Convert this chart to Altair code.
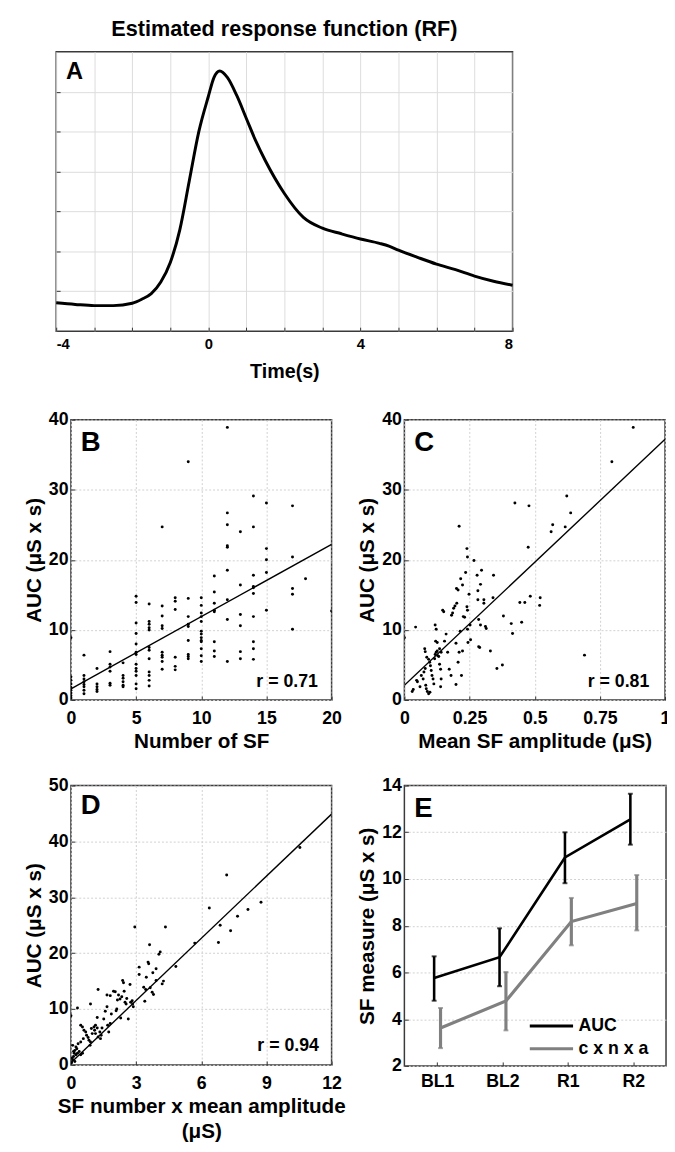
import altair as alt
import pandas as pd

FONT = "Liberation Sans"

# ---------------- Panel A: estimated response function ----------------
rf_time = [-4, -3.5, -3, -2.5, -2, -1.75, -1.5, -1.25, -1, -0.75, -0.5, -0.25, 0, 0.15, 0.3,
           0.5, 0.75, 1, 1.25, 1.5, 2, 2.5, 3, 3.5, 4, 4.5, 4.75, 5, 5.5, 6, 6.5, 7, 7.5, 8]
rf_value = [0.71, 0.67, 0.64, 0.64, 0.70, 0.80, 0.94, 1.23, 1.72, 2.54, 3.77, 5.0, 5.88, 6.36, 6.52,
            6.36, 5.9, 5.33, 4.76, 4.27, 3.45, 2.85, 2.58, 2.44, 2.31, 2.20, 2.13, 2.03, 1.85, 1.68, 1.54, 1.38, 1.25, 1.15]

# ---------------- Panel B: number of SF vs AUC ----------------
B_count = ([0]*9 + [1]*8 + [2]*5 + [3]*6 + [4]*6 + [5]*13 + [6]*12 + [7]*10 + [8]*6 + [9]*9 +
           [10]*13 + [11]*8 + [12]*9 + [13]*6 + [14]*10 + [15]*5 + [17]*5 + [18] + [20])
B_auc = [8.9, 3.3, 2.8, 2.3, 1.8, 1.4, 1.0, 0.6, 0.3,
         6.4, 3.5, 3.0, 2.6, 2.2, 1.9, 1.4, 0.9,
         4.5, 2.3, 1.9, 1.5, 1.2,
         6.9, 5.1, 4.7, 4.1, 2.4, 2.1,
         5.3, 3.5, 3.1, 2.6, 2.1, 1.9,
         14.8, 13.9, 11.0, 9.5, 8.0, 6.8, 6.5, 5.1, 4.5, 4.1, 3.5, 2.3, 1.6,
         13.7, 11.2, 10.8, 10.3, 10.0, 7.5, 7.1, 5.9, 4.0, 3.5, 2.8, 2.0,
         24.7, 13.4, 12.0, 10.6, 10.2, 6.8, 6.4, 6.1, 5.5, 4.4,
         14.6, 14.1, 12.9, 6.1, 4.8, 4.3,
         34.0, 14.5, 11.9, 10.8, 10.5, 8.5, 6.5, 6.2, 5.9,
         14.6, 13.5, 12.4, 11.9, 11.2, 9.8, 9.4, 8.9, 8.5, 8.3, 7.3, 6.3, 5.5,
         17.7, 15.4, 13.8, 12.8, 12.6, 8.3, 7.0, 6.2,
         38.9, 26.7, 25.0, 22.0, 21.8, 18.5, 14.3, 11.5, 5.5,
         24.0, 16.4, 12.2, 10.6, 6.9, 5.9,
         29.1, 24.7, 17.8, 16.2, 16.0, 15.2, 11.9, 8.3, 7.3, 5.8,
         28.1, 21.6, 20.0, 18.2, 12.8,
         27.7, 20.4, 15.9, 15.1, 10.1,
         17.3,
         12.7]
B_fit_x = [0, 20]
B_fit_y = [1.6, 22.2]

# ---------------- Panel C: mean SF amplitude vs AUC ----------------
C_amp = [0, 0.043, 0.047, 0.05, 0.034, 0.03, 0.06, 0.065, 0.072, 0.075, 0.08, 0.082, 0.084, 0.088, 0.093, 0.098,
         0.08, 0.078, 0.086, 0.093, 0.097, 0.1, 0.103, 0.106, 0.11, 0.113,
         0.116, 0.118, 0.122, 0.126, 0.128, 0.132, 0.135, 0.141, 0.118, 0.122, 0.12, 0.126, 0.135, 0.139, 0.141, 0.139,
         0.147, 0.151, 0.154, 0.16, 0.166, 0.172, 0.179, 0.181, 0.185, 0.189, 0.194, 0.198, 0.198,
         0.2, 0.206, 0.201, 0.21, 0.206, 0.21, 0.214, 0.216, 0.219, 0.223, 0.223, 0.226, 0.231, 0.235, 0.24, 0.242,
         0.24, 0.242, 0.242, 0.244, 0.248, 0.252, 0.254,
         0.267, 0.279, 0.282, 0.282, 0.285, 0.285, 0.289, 0.292, 0.292, 0.296, 0.305, 0.305, 0.311, 0.314, 0.33, 0.342, 0.34,
         0.355, 0.376, 0.38, 0.41, 0.415, 0.424, 0.443, 0.45, 0.462, 0.475, 0.478, 0.483, 0.519, 0.521, 0.563, 0.569,
         0.617, 0.623, 0.638, 0.691, 0.796, 0.878]
C_auc = [8.9, 10.4, 2.8, 2.6, 1.5, 1.2, 1.9, 3.5, 3.0, 4.0, 4.5, 2.1, 1.6, 1.2, 0.9, 1.1,
         6.9, 7.3, 6.1, 5.8, 5.4, 4.9, 4.2, 3.5, 3.0, 2.3,
         5.9, 6.5, 6.8, 7.0, 6.3, 6.2, 7.3, 6.8, 10.7, 10.1, 8.4, 8.2, 5.1, 4.4, 3.0, 1.9,
         12.8, 12.6, 8.4, 9.4, 6.8, 4.4, 3.5, 12.1, 12.4, 13.1, 13.4, 8.1, 2.2,
         15.9, 15.7, 13.8, 24.8, 5.4, 6.8, 9.8, 17.3, 3.5, 16.4, 7.0, 11.9, 11.8, 18.2, 21.6, 20.4,
         13.3, 12.8, 10.1, 8.2, 15.1, 10.7, 8.6,
         19.9, 17.8, 15.6, 14.3, 11.5, 7.6, 7.5, 16.5, 10.7, 18.5, 14.3, 13.8, 10.5, 10.2, 7.0, 17.8, 14.6,
         4.5, 5.0, 12.0, 10.9, 9.5, 28.1, 13.9, 11.1, 13.9, 21.8, 27.7, 14.8, 13.5, 14.6, 24.0, 25.0,
         24.7, 29.1, 26.7, 6.4, 34.0, 38.9]
C_fit_x = [0, 1]
C_fit_y = [2.1, 37.2]

# ---------------- Panel D: SF number x mean amplitude vs AUC ----------------
D_prod = [0, 0.3, 0.9, 1.25,
          0.08, 0.12, 0.15, 0.18, 0.23, 0.27, 0.08, 0.12, 0.23, 0.3, 0.38, 0.45, 0.53, 0.33, 0.45, 0.57, 0.03, 0.05, 0.18,
          0.45, 0.53, 0.6, 0.68, 0.72, 0.79, 0.83, 0.88, 0.9, 0.98, 0.94, 1.06, 1.13, 1.21, 1.21, 1.25, 1.33, 1.39, 1.36, 1.43, 1.09, 1.13,
          1.51, 1.58, 1.66, 1.69, 1.74, 1.81, 1.86, 1.66, 1.81, 1.96, 2.04, 2.08, 2.11, 2.14, 2.19, 2.26, 2.29, 2.34, 2.38, 2.42,
          2.45, 2.49, 2.54, 2.57, 2.64, 2.72, 2.75, 2.82, 2.84, 2.87,
          2.94, 3.14, 3.14, 3.35, 3.4, 3.44, 3.47, 3.55, 3.58, 3.62, 3.65, 3.74, 3.8, 3.77, 3.92, 3.92, 4.05, 4.11, 4.2, 4.26, 4.35, 4.83,
          5.7, 6.37, 6.79, 6.87, 7.17, 7.35, 7.67, 8.15, 8.75, 10.54]
D_auc = [8.8, 10.2, 10.9, 13.5,
         0.9, 1.5, 2.1, 2.6, 3.2, 2.9, 3.5, 2.4, 1.8, 2.1, 2.4, 1.8, 2.1, 3.8, 4.1, 4.7, 0.4, 1.2, 0.6,
         7.1, 6.8, 6.2, 5.9, 5.3, 4.9, 4.4, 3.5, 4.1, 5.6, 6.5, 6.8, 7.1, 6.6, 8.5, 5.0, 5.9, 5.3, 4.7, 6.6, 6.2, 5.6,
         8.2, 9.6, 10.4, 7.1, 5.9, 7.4, 9.1, 12.5, 12.4, 13.2, 13.1, 9.7, 10.0, 11.6, 12.5, 11.8, 8.4, 12.2, 15.1, 14.7,
         13.2, 11.2, 10.9, 11.9, 8.2, 14.4, 11.2, 11.5, 10.9, 10.4,
         24.7, 17.5, 16.2, 13.9, 11.4, 13.5, 15.7, 18.4, 18.1, 21.5, 13.8, 13.0, 12.6, 16.5, 15.1, 17.2, 19.8, 20.2, 14.5, 15.0, 24.7, 17.6,
         21.8, 28.1, 21.9, 25.0, 34.0, 24.0, 26.6, 27.8, 29.1, 38.9]
D_fit_x = [0, 12]
D_fit_y = [0.4, 44.9]

# ---------------- Panel E: SF measures by period ----------------
E_periods = ["BL1", "BL2", "R1", "R2"]
E_auc_mean = [5.76, 6.65, 10.92, 12.55]
E_auc_lo = [4.79, 5.41, 9.82, 11.47]
E_auc_hi = [6.69, 7.89, 12.0, 13.65]
E_cna_mean = [3.62, 4.78, 8.18, 8.95]
E_cna_lo = [2.76, 3.52, 7.16, 7.80]
E_cna_hi = [4.48, 6.02, 9.19, 10.17]
E_series = ["AUC", "c x n x a"]
E_colors = ["#000000", "#808080"]

AUC_TITLE = "AUC (\u03bcS x s)"
W, H = 265, 285
GRID = dict(gridColor="#d0d0d0", gridDash=[2, 2], gridWidth=1)


def ax(values, title, fmt_expr=None, title_pad=6, label_pad=4, **kw):
    d = dict(title=title, offset=-4, tickSize=4, tickColor="#333333",
             domain=False, labelPadding=label_pad, titlePadding=title_pad, labelFlush=False, **GRID)
    if values is not None:
        d["values"] = values
    if fmt_expr:
        d["labelExpr"] = fmt_expr
    d.update(kw)
    return alt.Axis(**d)


def letter(ch, y=32, size=28):
    return alt.Chart(pd.DataFrame({"t": [ch]})).mark_text(
        fontSize=size, fontWeight="bold", font=FONT, align="left", baseline="alphabetic", color="black"
    ).encode(text="t:N", x=alt.value(10), y=alt.value(y))


def rtext(txt, x, y):
    return alt.Chart(pd.DataFrame({"t": [txt]})).mark_text(
        fontSize=18, fontWeight="bold", font=FONT, align="right", baseline="alphabetic", color="black"
    ).encode(text="t:N", x=alt.value(x), y=alt.value(y))


def spacer(w):
    return alt.Chart(pd.DataFrame({"a": [0]})).mark_point(opacity=0).encode(
        x=alt.X("a:Q", axis=None), y=alt.Y("a:Q", axis=None)
    ).properties(width=w, height=1, view=alt.ViewBackground(strokeOpacity=0, fillOpacity=0))


def scatter(xs, ys, fx, fy, xdom, xvals, ydom, yvals, xtitle, lab, rt, h=H, rx=251, ry=272, ly=32,
            xlabel_expr=None, xtitle_pad=3):
    pts = pd.DataFrame({"x": xs, "y": ys})
    fit = pd.DataFrame({"x": fx, "y": fy})
    X = alt.X("x:Q", scale=alt.Scale(domain=xdom, nice=False, zero=False),
              axis=ax(xvals, xtitle, xlabel_expr, title_pad=xtitle_pad, label_pad=10, titleLineHeight=26))
    Y = alt.Y("y:Q", scale=alt.Scale(domain=ydom, nice=False, zero=False),
              axis=ax(yvals, AUC_TITLE, title_pad=4, label_pad=3))
    p = alt.Chart(pts).mark_circle(size=9, color="black", opacity=1, clip=True).encode(x=X, y=Y)
    l = alt.Chart(fit).mark_line(color="black", strokeWidth=1.4, clip=True).encode(x="x:Q", y="y:Q")
    return alt.layer(p, l, letter(lab, ly), rtext(rt, rx, ry)).properties(width=W, height=h)


# ---- Panel A ----
dfA = pd.DataFrame({"t": rf_time, "v": rf_value})
A = alt.layer(
    alt.Chart(dfA).mark_line(color="black", strokeWidth=3, interpolate="monotone").encode(
        x=alt.X("t:Q", scale=alt.Scale(domain=[-4, 8], nice=False, zero=False),
                axis=alt.Axis(values=list(range(-4, 9)), title="Time(s)", offset=-4, tickSize=4,
                              tickColor="#333333", domain=False, labelPadding=6, titlePadding=10,
                              labelExpr="datum.value % 4 == 0 ? replace(datum.label, '\u2212', '-') : ''",
                              labelFontSize=15, titleFontSize=20, gridColor="#dcdcdc", gridWidth=1)),
        y=alt.Y("v:Q", scale=alt.Scale(domain=[0, 7], nice=False, zero=False),
                axis=alt.Axis(values=[1, 2, 3, 4, 5, 6], title=None, labels=False, offset=-4, tickSize=4,
                              tickColor="#333333", domain=False, gridColor="#dcdcdc", gridWidth=1)),
    ),
    letter("A", 28, 24),
).properties(width=464, height=284,
             title=alt.Title("Estimated response function (RF)", font=FONT,
                             fontSize=22, fontWeight="bold", anchor="middle", offset=11, color="black"))

B = scatter(B_count, B_auc, B_fit_x, B_fit_y, [0, 20], [0, 5, 10, 15, 20], [0, 40], [0, 10, 20, 30, 40],
            "Number of SF", "B", "r = 0.71")
C = scatter(C_amp, C_auc, C_fit_x, C_fit_y, [0, 1], [0, 0.25, 0.5, 0.75, 1], [0, 40], [0, 10, 20, 30, 40],
            "Mean SF amplitude (\u03bcS)", "C", "r = 0.81", rx=249,
            xlabel_expr="format(datum.value, '')")
D = scatter(D_prod, D_auc, D_fit_x, D_fit_y, [0, 12], [0, 3, 6, 9, 12], [0, 50], [0, 10, 20, 30, 40, 50],
            ["SF number x mean amplitude", "(\u03bcS)"], "D", "r = 0.94", h=284, rx=252, ry=270, ly=29,
            xtitle_pad=3)

# ---- Panel E ----
rows = []
for s, mean, lo, hi in [(E_series[0], E_auc_mean, E_auc_lo, E_auc_hi),
                        (E_series[1], E_cna_mean, E_cna_lo, E_cna_hi)]:
    for per, m, a, b in zip(E_periods, mean, lo, hi):
        rows.append({"period": per, "series": s, "mean": m, "lo": a, "hi": b})
dfE = pd.DataFrame(rows)

EX = alt.X("period:N", sort=E_periods, scale=alt.Scale(type="point", padding=0.5),
           axis=ax(None, None, title_pad=4, label_pad=7, labelAngle=0))
EY = alt.Y("mean:Q", scale=alt.Scale(domain=[2, 14], nice=False, zero=False),
           axis=ax([2, 4, 6, 8, 10, 12, 14], "SF measure (\u03bcS x s)", title_pad=4, label_pad=3))
color = alt.Color("series:N", scale=alt.Scale(domain=E_series, range=E_colors),
                  legend=alt.Legend(title=None, orient="none", legendX=137, legendY=232,
                                    symbolType="M-2,0H2", symbolSize=484, symbolStrokeWidth=3,
                                    symbolFillColor="transparent",
                                    labelFontSize=18, labelFont=FONT, labelFontWeight="bold",
                                    labelColor="black", labelOffset=15, rowPadding=1))

Elayers = []
for s, off, sw in [(E_series[0], -3, 2.6), (E_series[1], 3.5, 3.2)]:
    sub = dfE[dfE["series"] == s]
    base = alt.Chart(sub)
    Elayers.append(base.mark_line(strokeWidth=sw, xOffset=off).encode(x=EX, y=EY, color=color))
    Elayers.append(base.mark_rule(strokeWidth=sw, xOffset=off).encode(
        x=alt.X("period:N", sort=E_periods), y="lo:Q", y2="hi:Q",
        color=alt.Color("series:N", scale=alt.Scale(domain=E_series, range=E_colors), legend=None)))
    for f in ["lo", "hi"]:
        Elayers.append(base.mark_tick(size=5, thickness=2, xOffset=off).encode(
            x=alt.X("period:N", sort=E_periods), y=f"{f}:Q",
            color=alt.Color("series:N", scale=alt.Scale(domain=E_series, range=E_colors), legend=None)))
Elayers.append(letter("E", 32))
E = alt.layer(*Elayers).properties(width=266, height=285)

SP = 10
row1 = alt.hconcat(spacer(15 - SP), B, spacer(74 - 2 * SP), C, spacing=SP, bounds="flush")
row2 = alt.hconcat(spacer(15 - SP), D, spacer(74 - 2 * SP), E, spacing=SP, bounds="flush").resolve_scale(
    color="independent").resolve_legend(color="independent")
lower = alt.vconcat(row1, row2, spacing=24).resolve_scale(
    color="independent").resolve_legend(color="independent")
chart = alt.vconcat(A, lower, spacing=28).resolve_scale(
    color="independent").resolve_legend(color="independent").properties(
    padding={"left": 15, "top": 0, "right": -4, "bottom": 0}
).configure_view(stroke="#3a3a3a", strokeWidth=1.5).configure_axis(
    labelFont=FONT, labelFontSize=18, labelFontWeight="bold", labelColor="black",
    titleFont=FONT, titleFontSize=21, titleFontWeight="bold", titleColor="black"
).configure_title(font=FONT)

chart.save("out.html", embed_options={"renderer": "svg", "actions": False})
